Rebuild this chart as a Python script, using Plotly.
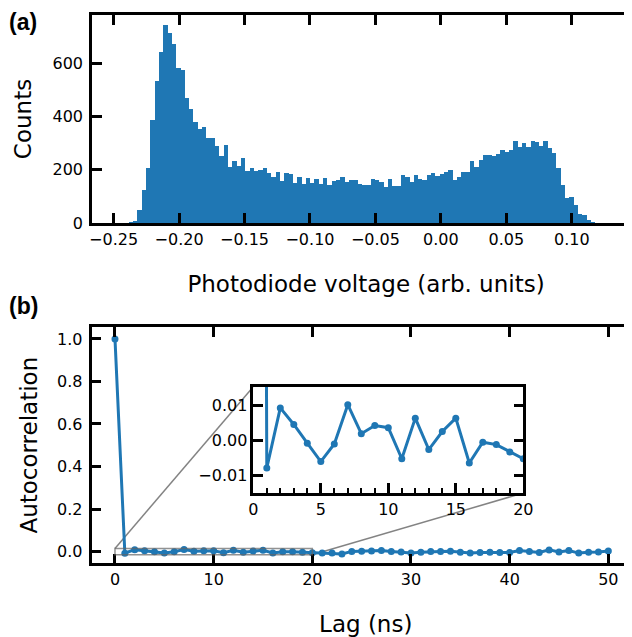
import plotly.graph_objects as go

# ---------------- data ----------------
hist_first_edge = -0.2385
hist_bin_width = 0.0033008
hist_counts = [
    2, 6, 48, 125, 207, 387, 531, 641, 741, 713, 670, 583, 575, 470, 429, 380,
    354, 361, 320, 318, 287, 250, 294, 209, 231, 213, 242, 196, 207, 195, 200,
    205, 186,
    171, 193, 158, 188, 182, 150, 173, 146, 167, 150, 164, 146, 168, 142, 156,
    160, 171, 152, 160, 161, 148, 143, 141, 164, 161, 152, 136, 164, 140, 140,
    180, 174, 154, 179, 164, 161, 180, 188, 177,
    182, 190, 198, 161, 171, 193, 193, 231, 211, 237, 255, 254, 250, 259, 274,
    266, 274, 309, 286, 300, 286, 306, 303, 289, 309, 282, 261, 206, 143, 95,
    99, 67, 33, 29, 10, 3,
]
hist_centers = [hist_first_edge + (i + 0.5) * hist_bin_width for i in range(len(hist_counts))]

lags = list(range(0, 51))
autocorr = [
    1.0,
    -0.0078, 0.0092, 0.0045, -0.0008, -0.0060, -0.0010, 0.0101, 0.0019, 0.0042, 0.0036,
    -0.0052, 0.0063, -0.0026, 0.0025, 0.0063, -0.0064, -0.0005, -0.0012, -0.0033, -0.0052,
    -0.006, -0.007, -0.011, 0.001, 0.002, 0.003, 0.005, 0.001, -0.002, -0.007,
    -0.003, 0.000, 0.001, 0.002, -0.003, -0.007, -0.004, -0.003, -0.004, -0.004,
    0.005, 0.001, -0.004, 0.008, -0.002, 0.005, -0.007, -0.003, -0.002, 0.003,
]
inset_lags = lags[:21]
inset_vals = autocorr[:21]

hist_xticks = [-0.25, -0.20, -0.15, -0.10, -0.05, 0.00, 0.05, 0.10]
hist_yticks = [0, 200, 400, 600]
ac_xticks = [0, 10, 20, 30, 40, 50]
ac_yticks = [0.0, 0.2, 0.4, 0.6, 0.8, 1.0]
inset_xticks = [0, 5, 10, 15, 20]
inset_yticks = [-0.01, 0.0, 0.01]

# ---------------- layout geometry ----------------
W, H = 632, 637
OFF = 8  # page body margin offset
BLUE = "#1f77b4"
FONT = "DejaVu Sans"

def dx(px):
    return (px - OFF) / W

def dy(px):
    return 1 - (px - OFF) / H

dom_top_x = [dx(92), 1.0]
dom_top_y = [dy(223), dy(15)]
dom_bot_x = [dx(91.5), 1.0]
dom_bot_y = [dy(563.3), dy(327)]
dom_ins_x = [dx(253.3), dx(523.3)]
dom_ins_y = [dy(493), dy(386.7)]

# right edge of window sits at pixel 632, plot area extends to W+OFF
x1_range = [-0.2665, 0.146 + OFF / 1310]
y1_range = [0, 780]
x2_range = [-2.38, 52.4 + OFF / 9.866]
y2_range = [-0.055, 1.056]
x3_range = [0, 20]
y3_range = [-0.0149, 0.0152]

fig = go.Figure()

fig.add_trace(go.Bar(
    x=hist_centers, y=hist_counts, width=hist_bin_width,
    marker=dict(color=BLUE, line=dict(width=0)),
    xaxis="x", yaxis="y", showlegend=False,
))

fig.add_trace(go.Scatter(
    x=lags, y=autocorr, mode="lines+markers",
    line=dict(color=BLUE, width=3), marker=dict(color=BLUE, size=7),
    xaxis="x2", yaxis="y2", showlegend=False,
))

fig.add_trace(go.Scatter(
    x=inset_lags, y=inset_vals, mode="lines+markers",
    line=dict(color=BLUE, width=3), marker=dict(color=BLUE, size=7),
    xaxis="x3", yaxis="y3", showlegend=False,
))

tickfont = dict(family=FONT, size=16, color="black")

def tfont(size):
    return dict(family=FONT, size=size, color="black")

common = dict(
    showgrid=False, zeroline=False, showline=True, linecolor="black", linewidth=2.5,
    ticks="inside", ticklen=10, tickwidth=2.5, tickcolor="black",
    tickfont=tickfont, automargin=False,
)

# inset corners expressed in main-axis data coordinates (for connector lines)
def paper_to_x2(fx):
    return x2_range[0] + (fx - dom_bot_x[0]) / (dom_bot_x[1] - dom_bot_x[0]) * (x2_range[1] - x2_range[0])

def paper_to_y2(fy):
    return y2_range[0] + (fy - dom_bot_y[0]) / (dom_bot_y[1] - dom_bot_y[0]) * (y2_range[1] - y2_range[0])

ins_left = paper_to_x2(dom_ins_x[0])
ins_right = paper_to_x2(dom_ins_x[1])
ins_top = paper_to_y2(dom_ins_y[1])
ins_bottom = paper_to_y2(dom_ins_y[0])

zoom_x = [x3_range[0], x3_range[1]]
zoom_y = [-0.015, 0.015]

fig.update_layout(
    width=W, height=H,
    margin=dict(l=0, r=0, t=0, b=0),
    paper_bgcolor="white", plot_bgcolor="white",
    bargap=0,
    font=dict(family=FONT, color="black"),
    xaxis=dict(
        domain=dom_top_x, range=x1_range, anchor="y", mirror="ticks",
        tickvals=hist_xticks, tickformat=".2f",
        title=dict(text="Photodiode voltage (arb. units)", font=tfont(23), standoff=28),
        **common,
    ),
    yaxis=dict(
        domain=dom_top_y, range=y1_range, anchor="x", mirror="ticks",
        tickvals=hist_yticks, ticklabelstandoff=3,
        title=dict(text="Counts", font=tfont(23), standoff=15),
        **common,
    ),
    xaxis2=dict(
        domain=dom_bot_x, range=x2_range, anchor="y2", mirror="ticks",
        tickvals=ac_xticks,
        title=dict(text="Lag (ns)", font=tfont(23), standoff=28),
        **common,
    ),
    yaxis2=dict(
        domain=dom_bot_y, range=y2_range, anchor="x2", mirror="ticks",
        tickvals=ac_yticks, tickformat=".1f", ticklabelstandoff=3,
        title=dict(text="Autocorrelation", font=tfont(23), standoff=14),
        **common,
    ),
    xaxis3=dict(
        domain=dom_ins_x, range=x3_range, anchor="y3", mirror=True,
        tickvals=inset_xticks,
        minor=dict(ticks="inside", dtick=1, ticklen=5, tickwidth=2, tickcolor="black"),
        **common,
    ),
    yaxis3=dict(
        domain=dom_ins_y, range=y3_range, anchor="x3", mirror="ticks",
        tickvals=inset_yticks, tickformat=".2f",
        **common,
    ),
    shapes=[
        dict(type="rect", xref="x2", yref="y2", x0=zoom_x[0], x1=zoom_x[1],
             y0=zoom_y[0], y1=zoom_y[1], line=dict(color="rgba(100,100,100,0.7)", width=1.5),
             fillcolor="rgba(0,0,0,0)", layer="above"),
        dict(type="line", xref="x2", yref="y2", x0=zoom_x[0], y0=zoom_y[1],
             x1=ins_left, y1=ins_top, line=dict(color="rgba(100,100,100,0.8)", width=1.5),
             layer="below"),
        dict(type="line", xref="x2", yref="y2", x0=zoom_x[1], y0=zoom_y[0],
             x1=ins_right, y1=ins_bottom, line=dict(color="rgba(100,100,100,0.8)", width=1.5),
             layer="below"),
    ],
    annotations=[
        dict(text="<b>(a)</b>", xref="paper", yref="paper", x=dx(7), y=dy(22),
             xanchor="left", yanchor="middle", showarrow=False,
             font=dict(family="Liberation Sans", size=23, color="black")),
        dict(text="<b>(b)</b>", xref="paper", yref="paper", x=dx(7), y=dy(306),
             xanchor="left", yanchor="middle", showarrow=False,
             font=dict(family="Liberation Sans", size=23, color="black")),
    ],
)

fig.write_html("out.html")
